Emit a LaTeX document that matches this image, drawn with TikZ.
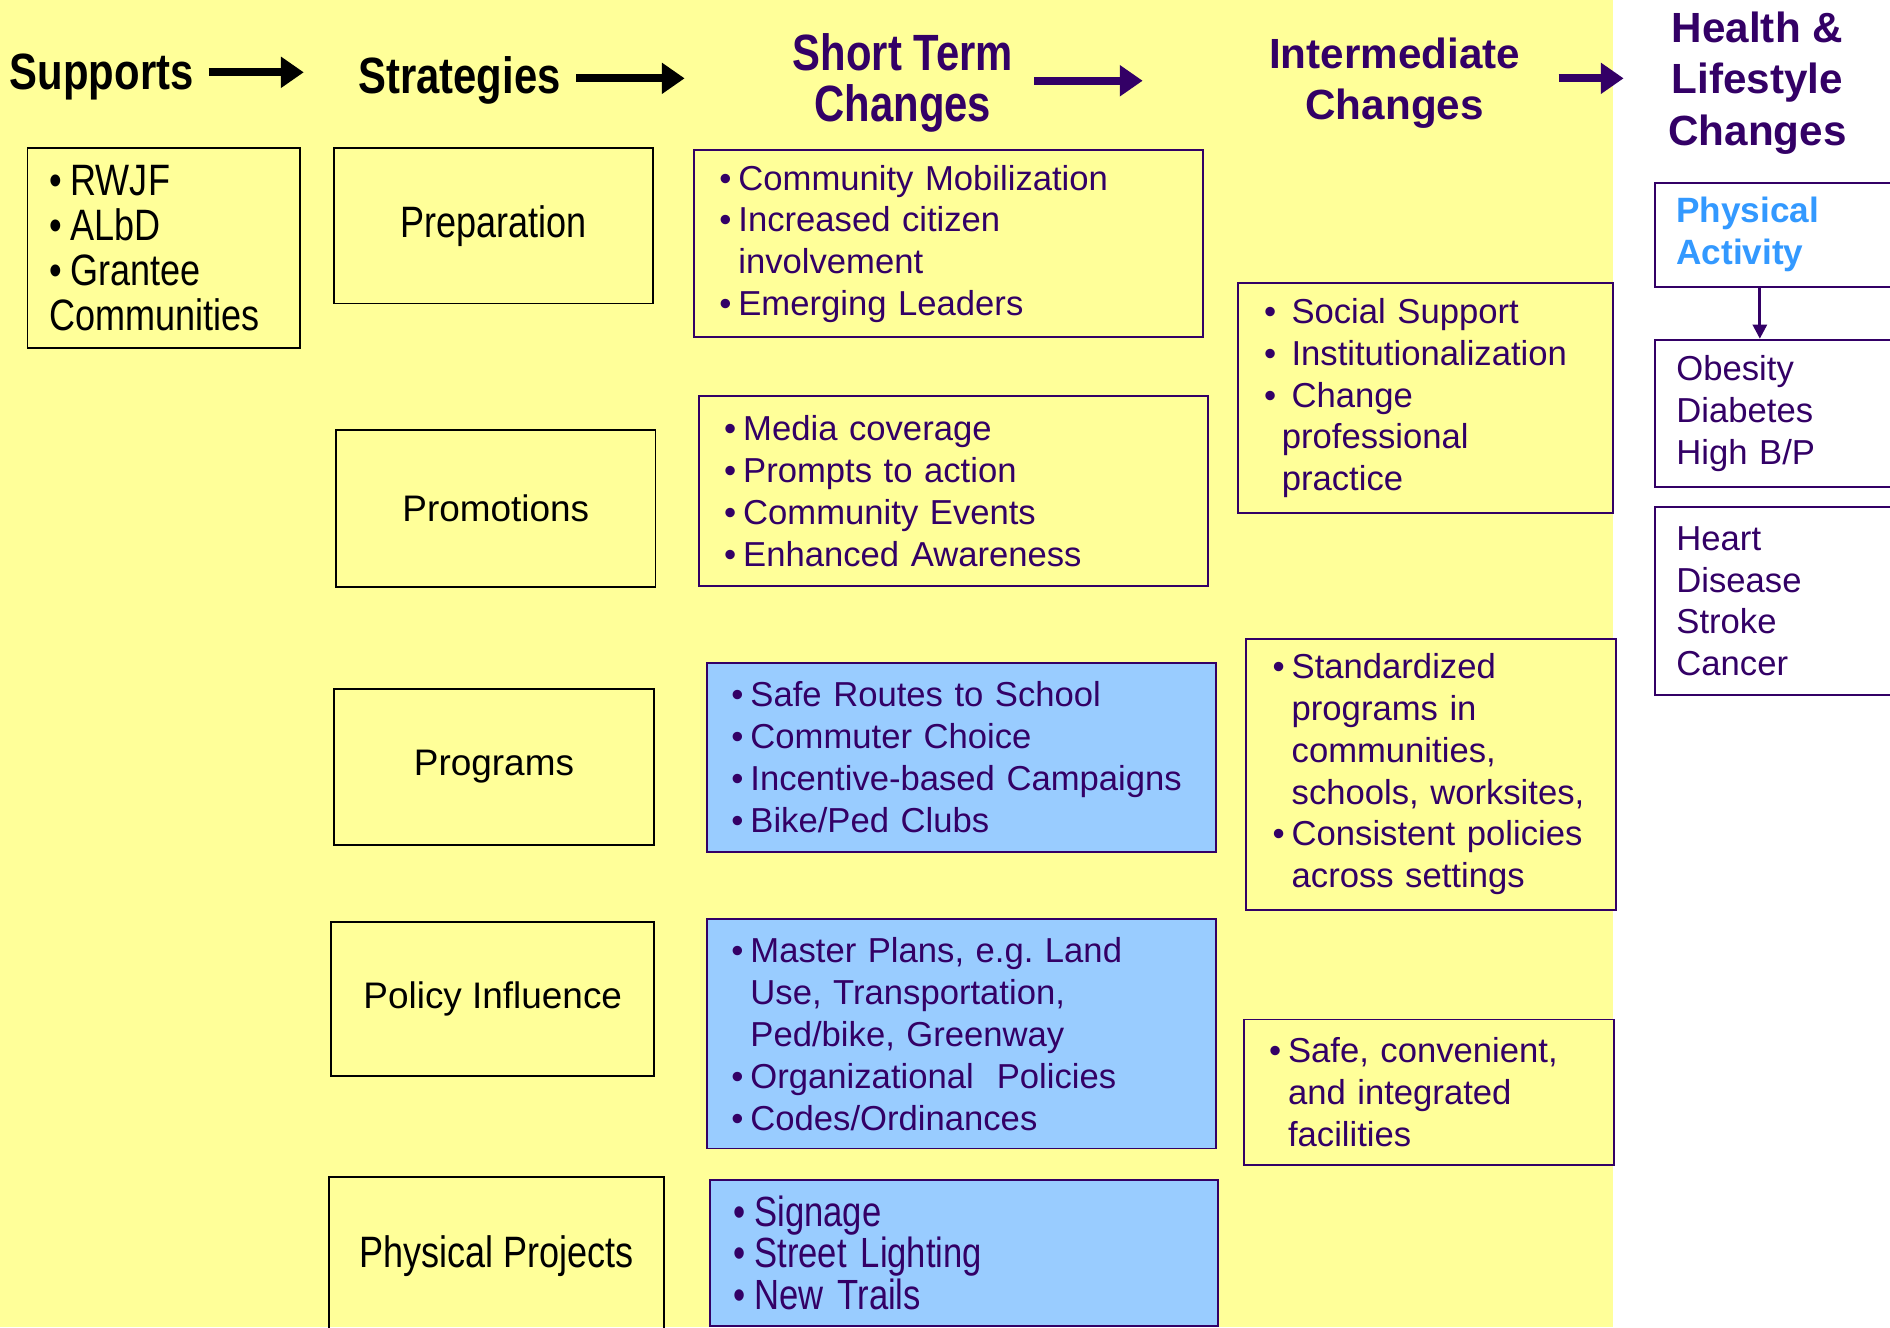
\documentclass[tikz,border=0pt]{standalone}
\usepackage{fontspec}
\setmainfont{Liberation Sans}
\newfontfamily\narrowfont{Liberation Sans}[FakeStretch=0.82]
\usetikzlibrary{arrows.meta}

\definecolor{padyellow}{HTML}{FFFF99}
\definecolor{padblue}{HTML}{99CCFF}
\definecolor{padpurple}{HTML}{330066}
\definecolor{padsky}{HTML}{3399FF}

\newlength\px
\setlength\px{0.0241cm}
\newcommand{\itm}{\textbullet\hspace{0.2em}}
\newcommand{\gap}{\hphantom{\itm}}
\frenchspacing

\tikzset{
  headblack/.style={font=\narrowfont\bfseries\fontsize{29pt}{29pt}\selectfont, inner sep=0pt},
  headnarrow/.style={headblack, text=padpurple, align=center},
  headpurple/.style={font=\bfseries\fontsize{24pt}{29.2pt}\selectfont, text=padpurple, align=center, inner sep=0pt},
  flowarrow/.style={line width=4.5pt, -{Triangle[length=13pt,width=17pt]}},
  stratbox/.style={draw=black, line width=1.1pt, anchor=north west, inner sep=0pt, align=center, font=\fontsize{21pt}{25pt}\selectfont},
  narrowbox/.style={stratbox, font=\narrowfont\fontsize{25pt}{25.7pt}\selectfont},
  listbox/.style={draw=padpurple, line width=1.1pt, text=padpurple, anchor=north west, inner ysep=0pt, align=left, font=\fontsize{19.7pt}{23.8pt}\selectfont},
  bluebox/.style={listbox, fill=padblue},
  healthbox/.style={listbox, fill=white, text width=192\px, inner xsep=18\px}
}

\begin{document}
\begin{tikzpicture}[x=\px, y=-\px]

  \useasboundingbox (0,0) rectangle (1568,1101);
  \fill[padyellow] (0,0) rectangle (1338,1101);
  \fill[white] (1338,0) rectangle (1568,1101);

  % column heads
  \node[headblack, anchor=west] (supports) at (8,64) {Supports};
  \node[headblack, anchor=west] (strategies) at (297,67) {Strategies};
  \node[headnarrow] (shortterm) at (749,69) {Short Term\\Changes};
  \node[headpurple] (intermediate) at (1157,69) {Intermediate\\Changes};
  \node[headpurple] (health) at (1458,69) {Health \&\\Lifestyle\\Changes};

  \coordinate (arrA) at (173,60);  \coordinate (arrB) at (252,60);
  \coordinate (arrC) at (478,65);  \coordinate (arrD) at (568,65);
  \coordinate (arrE) at (858,67);  \coordinate (arrF) at (948,67);
  \coordinate (arrG) at (1293,65); \coordinate (arrH) at (1347,65);
  \draw[flowarrow] (arrA) -- (arrB);
  \draw[flowarrow] (arrC) -- (arrD);
  \draw[flowarrow, padpurple] (arrE) -- (arrF);
  \draw[flowarrow, padpurple] (arrG) -- (arrH);

  % supports and strategies
  \node[narrowbox, align=left, text width=190\px, inner xsep=18\px, minimum height=166\px] (funders) at (22,122)
    {\itm RWJF\\\itm ALbD\\\itm Grantee\\Communities};
  \node[narrowbox, minimum width=265\px, minimum height=129\px] (preparation) at (276,122) {Preparation};
  \node[stratbox, minimum width=265\px, minimum height=130\px] (promotions) at (278,356) {Promotions};
  \node[stratbox, minimum width=266\px, minimum height=129\px] (programs) at (276,571) {Programs};
  \node[stratbox, minimum width=268\px, minimum height=128\px] (policy) at (274,764) {Policy Influence};
  \node[narrowbox, minimum width=278\px, minimum height=130\px] (projects) at (272,976) {Physical Projects};

  % short term changes
  \node[listbox, fill=padyellow, text width=380\px, inner xsep=21\px, minimum height=155\px] (mobilize) at (575,124)
    {\itm Community Mobilization\\\itm Increased citizen\\\gap involvement\\\itm Emerging Leaders};
  \node[listbox, fill=padyellow, text width=380\px, inner xsep=21\px, minimum height=157\px] (media) at (579,328)
    {\itm Media coverage\\\itm Prompts to action\\\itm Community Events\\\itm Enhanced Awareness};
  \node[bluebox, text width=382\px, inner xsep=20\px, minimum height=157\px] (routes) at (586,549)
    {\itm Safe Routes to School\\\itm Commuter Choice\\\itm Incentive-based Campaigns\\\itm Bike/Ped Clubs};
  \node[bluebox, text width=382\px, inner xsep=20\px, minimum height=190\px] (plans) at (586,762)
    {\itm Master Plans, e.g. Land\\\gap Use, Transportation,\\\gap Ped/bike, Greenway\\\itm Organizational\ \ Policies\\\itm Codes/Ordinances};
  \node[bluebox, font=\narrowfont\fontsize{24pt}{23.7pt}\selectfont, text width=382\px, inner xsep=20\px, minimum height=121\px] (signage) at (588,978)
    {\itm Signage\\\itm Street Lighting\\\itm New Trails};

  % intermediate changes
  \node[listbox, fill=padyellow, text width=267\px, inner xsep=22\px, minimum height=191\px] (social) at (1026,234)
    {\textbullet\hspace{0.44em}Social Support\\\textbullet\hspace{0.44em}Institutionalization\\\textbullet\hspace{0.44em}Change\\\hspace*{0.51em}professional\\\hspace*{0.51em}practice};
  \node[listbox, fill=padyellow, text width=263\px, inner xsep=22\px, minimum height=225\px] (standard) at (1033,529)
    {\itm Standardized\\\gap programs in\\\gap communities,\\\gap schools, worksites,\\\itm Consistent policies\\\gap across settings};
  \node[listbox, fill=padyellow, text width=265\px, inner xsep=21\px, minimum height=121\px] (facilities) at (1031,845)
    {\itm Safe, convenient,\\\gap and integrated\\\gap facilities};

  % health and lifestyle changes
  \node[healthbox, minimum height=86\px, font=\bfseries\fontsize{20pt}{24pt}\selectfont, text=padsky] (activity) at (1372,151)
    {Physical\\Activity};
  \node[healthbox, minimum height=122\px] (obesity) at (1372,281) {Obesity\\Diabetes\\High B/P};
  \node[healthbox, minimum height=156\px] (heart) at (1372,420) {Heart\\Disease\\Stroke\\Cancer};

  \coordinate (drop) at (1460,0);
  \draw[line width=1.6pt, padpurple, -{Triangle[length=8pt,width=8pt]}] (activity.south -| drop) -- (obesity.north -| drop);

\end{tikzpicture}
\end{document}
